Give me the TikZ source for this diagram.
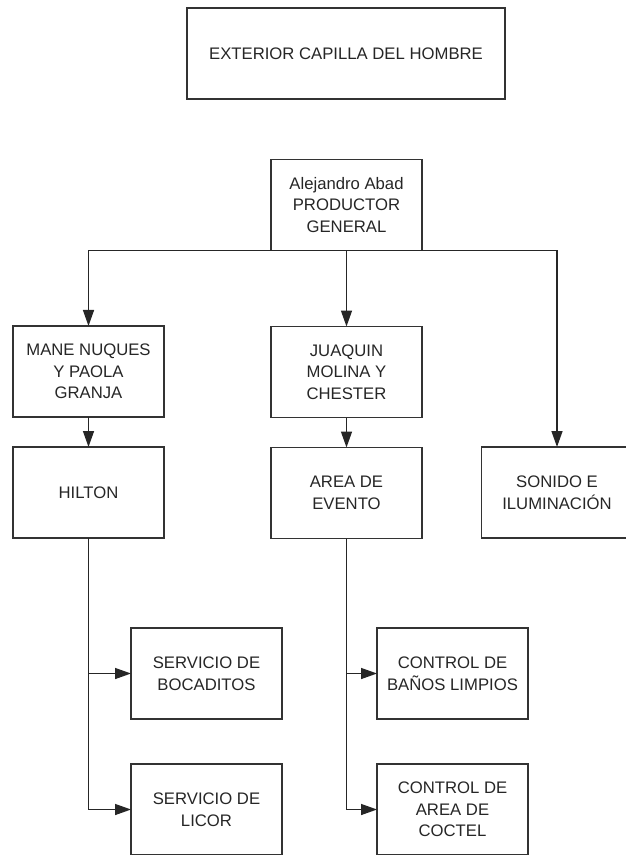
\documentclass[tikz,border=0pt]{standalone}
\usepackage{fontspec}
\setmainfont{Liberation Sans}
\usepackage{tikz}
\usetikzlibrary{positioning, arrows.meta}

\begin{document}
\begin{tikzpicture}[
    >={Triangle[length=3.2mm, width=2.2mm]},
    node distance=1.52cm and 2.1cm,
    every node/.style={font=\fontsize{9.5}{12.3}\selectfont, text=black!85},
    box/.style={
        draw=black!80, line width=0.8pt, outer sep=0pt,
        align=center, inner sep=2pt,
        minimum width=3.02cm, minimum height=1.82cm
    },
    arrow/.style={->, draw=black!85, line width=0.8pt},
]
\useasboundingbox (0,0) rectangle (12.5,-17.1);

% --- Title ---
\node[box, minimum width=6.36cm] (title) at (6.92,-1.07) {EXTERIOR CAPILLA DEL HOMBRE};

% --- Producer and first level ---
\node[box] (prod) at (6.93,-4.10) {Alejandro Abad\\PRODUCTOR\\GENERAL};
\node[box, below=of prod] (juaquin) {JUAQUIN\\MOLINA Y\\CHESTER};
\node[box] (mane) at (1.77,-7.43) {MANE NUQUES\\Y PAOLA\\GRANJA};

% --- Second level ---
\node[box, below=0.6cm of mane] (hilton) {HILTON};
\node[box, below=0.6cm of juaquin] (area) {AREA DE\\EVENTO};
\node[box] (sonido) at (11.14,-9.85) {SONIDO E\\ILUMINACIÓN};

% --- Services ---
\node[box] (bocaditos) at (4.13,-13.47) {SERVICIO DE\\BOCADITOS};
\node[box, below=0.9cm of bocaditos] (licor) {SERVICIO DE\\LICOR};
\node[box] (banos) at (9.05,-13.47) {CONTROL DE\\BAÑOS LIMPIOS};
\node[box, below=0.9cm of banos] (coctel) {CONTROL DE\\AREA DE\\COCTEL};

% --- Connectors ---
\draw[arrow] (prod.south) -| (mane.north);
\draw[arrow] (prod) -- (juaquin);
\draw[arrow] (prod.south) -| (sonido.north);
\draw[arrow] (mane) -- (hilton);
\draw[arrow] (juaquin) -- (area);
\draw[arrow] (hilton.south) |- (bocaditos.west);
\draw[arrow] (hilton.south) |- (licor.west);
\draw[arrow] (area.south) |- (banos.west);
\draw[arrow] (area.south) |- (coctel.west);

\end{tikzpicture}
\end{document}
